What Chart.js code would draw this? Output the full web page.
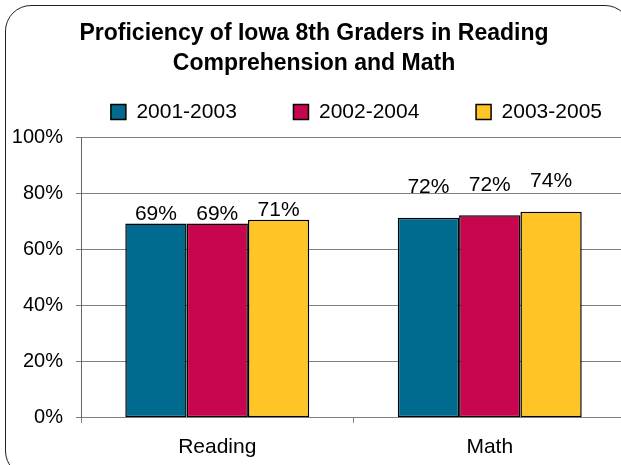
<!DOCTYPE html>
<html><head><meta charset="utf-8">
<script src="https://cdn.jsdelivr.net/npm/chart.js@4.4.1/dist/chart.umd.min.js"></script>
<style>
html,body{margin:0;padding:0;background:#fff;overflow:hidden;width:621px;height:465px}
#wrap{position:absolute;left:0;top:0;width:640px;height:465px}
#frame{position:absolute;left:5px;top:5px;width:626px;height:472px;border:1.5px solid #222;border-radius:26px;pointer-events:none;box-sizing:border-box}
</style></head><body>
<div id="wrap"><canvas id="c"></canvas></div>
<div id="frame"></div>
<script>
const categories = ['Reading', 'Math'];
const seriesNames = ['2001-2003', '2002-2004', '2003-2005'];
const values2001_2003 = [69.4, 71.5];
const values2002_2004 = [69.4, 72.4];
const values2003_2005 = [70.8, 73.6];
const yTickValues = [0, 20, 40, 60, 80, 100];
const seriesColors = ['#006A8F', '#C8064F', '#FFC425'];

const FONT = '"Liberation Sans", Arial, sans-serif';

const labelPlugin = {
  id: 'barValueLabels',
  afterDatasetsDraw(chart, args, opts) {
    const ctx = chart.ctx;
    ctx.save();
    ctx.font = '21px ' + FONT;
    ctx.fillStyle = '#000';
    ctx.textAlign = 'center';
    ctx.textBaseline = 'bottom';
    chart.data.datasets.forEach((ds, di) => {
      const meta = chart.getDatasetMeta(di);
      meta.data.forEach((el, i) => {
        const off = opts.offsets[i] || 0;
        ctx.fillText(Math.round(ds.data[i]) + '%', el.x, el.y - off);
      });
    });
    ctx.restore();
  }
};

new Chart(document.getElementById('c'), {
  type: 'bar',
  data: {
    labels: categories,
    datasets: [
      { label: seriesNames[0], data: values2001_2003, backgroundColor: seriesColors[0] },
      { label: seriesNames[1], data: values2002_2004, backgroundColor: seriesColors[1] },
      { label: seriesNames[2], data: values2003_2005, backgroundColor: seriesColors[2] }
    ].map(d => Object.assign(d, { borderColor: '#000', borderWidth: 1.5, borderSkipped: false,
      categoryPercentage: 0.675, barPercentage: 1.0 }))
  },
  options: {
    responsive: true,
    maintainAspectRatio: false,
    animation: false,
    layout: { padding: { left: 2, right: 14, top: 19, bottom: -7 } },
    plugins: {
      title: {
        display: true,
        text: ['Proficiency of Iowa 8th Graders in Reading', 'Comprehension and Math'],
        color: '#000',
        font: { family: FONT, size: 23, weight: 'bold', lineHeight: 1.304 },
        padding: { top: 0, bottom: -1.5 }
      },
      subtitle: {
        display: true, text: '', weight: 500,
        font: { size: 1, lineHeight: 1 }, padding: { top: 4.5, bottom: 0 }
      },
      legend: {
        display: true,
        align: 'end',
        labels: {
          color: '#000',
          font: { family: FONT, size: 21 },
          boxWidth: 15, boxHeight: 15, padding: 24,
          generateLabels(chart) {
            const items = Chart.defaults.plugins.legend.labels.generateLabels(chart);
            items.forEach((it, i) => {
              it.lineWidth = 1.5; it.strokeStyle = '#000';
              if (i < items.length - 1) it.text += '\u2002\u2002  ';
            });
            return items;
          }
        }
      },
      tooltip: { enabled: false },
      barValueLabels: { offsets: [-1, 20] }
    },
    scales: {
      x: {
        offset: true,
        grid: { display: true, drawOnChartArea: false, offset: true, tickLength: 5, color: '#808080' },
        border: { color: '#808080', width: 1 },
        ticks: { color: '#000', font: { family: FONT, size: 21 }, padding: 12 }
      },
      y: {
        min: 0, max: 100,
        afterBuildTicks(scale) { scale.ticks = yTickValues.map(v => ({ value: v })); },
        afterFit(scale) { scale.width = 79; },
        grid: { color: '#808080', tickLength: 5 },
        border: { color: '#666', width: 1 },
        ticks: { color: '#000', font: { family: FONT, size: 20 }, padding: 13,
          callback: v => v + '%' }
      }
    }
  },
  plugins: [labelPlugin]
});
</script>
</body></html>
